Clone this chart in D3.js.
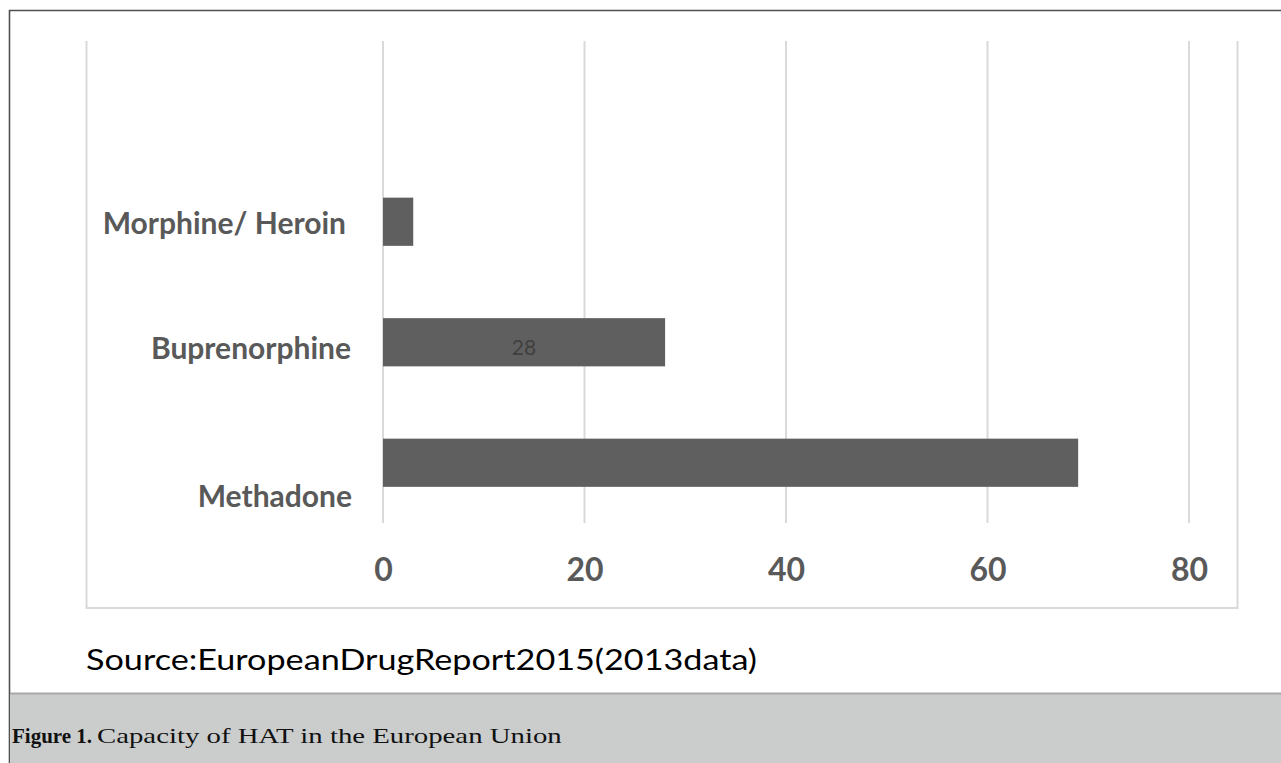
<!DOCTYPE html>
<html>
<head>
<meta charset="utf-8">
<script src="https://cdn.jsdelivr.net/npm/d3@7"></script>
<style>
  html, body { margin: 0; padding: 0; background: #fff; }
  svg { display: block; }
</style>
</head>
<body>
<script>
// Substitution treatment capacity (thousands of clients), bottom to top
const categories = ["Methadone", "Buprenorphine", "Morphine/ Heroin"];
const values = [69, 28, 3];
const tickValues = [0, 20, 40, 60, 80];
const labelledBars = ["Buprenorphine"];
const sourceText = "Source:EuropeanDrugReport2015(2013data)";
const captionBold = "Figure 1.";
const captionText = "Capacity of HAT in the European Union";

const W = 1281, H = 763;
const svg = d3.select("body").append("svg").attr("width", W).attr("height", H);

// Plot geometry
const plot = { left: 383, right: 1189, top: 41, bottom: 523 };
const frame = { left: 86.5, right: 1237.5, top: 41, bottom: 608 };

const x = d3.scaleLinear().domain([0, 80]).range([plot.left, plot.right]);
// four slots in the category axis; the top one stays empty
const slots = categories.concat([""]);
const y = d3.scaleBand().domain(slots).range([plot.bottom, plot.top]).paddingInner(0.6).paddingOuter(0.3);

// outer page border
svg.append("path")
  .attr("d", `M9.5,${H} V10.5 H${W}`)
  .attr("fill", "none").attr("stroke", "#505050").attr("stroke-width", 1.6);

// chart frame (left, bottom, right)
svg.append("path")
  .attr("d", `M${frame.left},${frame.top} V${frame.bottom} H${frame.right} V${frame.top}`)
  .attr("fill", "none").attr("stroke", "#d9d9d9").attr("stroke-width", 2);

// vertical gridlines
svg.append("g").selectAll("line").data(tickValues).join("line")
  .attr("x1", d => x(d)).attr("x2", d => x(d))
  .attr("y1", plot.top).attr("y2", plot.bottom)
  .attr("stroke", "#d9d9d9").attr("stroke-width", 2);

// bars
const data = categories.map((c, i) => ({ cat: c, val: values[i] }));
svg.append("g").selectAll("rect").data(data).join("rect")
  .attr("x", x(0))
  .attr("y", d => y(d.cat))
  .attr("width", d => x(d.val) - x(0))
  .attr("height", y.bandwidth())
  .attr("fill", "#5f5f5f");

// value label inside the bar
svg.append("g").selectAll("text").data(data.filter(d => labelledBars.includes(d.cat))).join("text")
  .attr("x", d => (x(0) + x(d.val)) / 2)
  .attr("y", d => y(d.cat) + y.bandwidth() / 2 + 7)
  .attr("dominant-baseline", "middle")
  .attr("text-anchor", "middle")
  .attr("font-family", "Lato, 'Open Sans', sans-serif")
  .attr("font-size", 21)
  .attr("fill", "#404040")
  .text(d => d.val);

// category labels (Methadone sits lower, as in the wrapped layout)
const labelShift = {
  "Methadone": { dx: 1, dy: 34 },
  "Buprenorphine": { dx: 0, dy: 7 },
  "Morphine/ Heroin": { dx: -5, dy: 2 }
};
const yAxis = d3.axisLeft(y).tickSize(0).tickPadding(0).tickFormat(d => d);
const yg = svg.append("g").attr("transform", `translate(351,0)`).call(yAxis);
yg.select(".domain").remove();
yg.selectAll(".tick").filter(d => d === "").remove();
yg.selectAll(".tick text")
  .attr("dx", d => labelShift[d].dx)
  .attr("dy", d => labelShift[d].dy + 10)
  .attr("font-family", "Lato, sans-serif")
  .attr("font-weight", "bold")
  .attr("font-size", 30)
  .attr("fill", "#595959");

// value axis labels
const xAxis = d3.axisBottom(x).tickValues(tickValues).tickSize(0).tickPadding(0);
const xg = svg.append("g").attr("transform", `translate(0,570)`).call(xAxis);
xg.select(".domain").remove();
xg.selectAll(".tick text")
  .attr("dy", "0.35em")
  .attr("font-family", "Lato, sans-serif")
  .attr("font-weight", "bold")
  .attr("font-size", 32)
  .attr("fill", "#595959");

// source note
svg.append("text")
  .attr("x", 86).attr("y", 670)
  .attr("font-family", "Lato, 'Open Sans', sans-serif")
  .attr("font-size", 29)
  .attr("fill", "#000")
  .attr("textLength", 671).attr("lengthAdjust", "spacingAndGlyphs")
  .text(sourceText);

// caption band
svg.append("rect")
  .attr("x", 10).attr("y", 693).attr("width", W - 10).attr("height", H - 693)
  .attr("fill", "#cbcdcc");
svg.append("line")
  .attr("x1", 10).attr("x2", W).attr("y1", 693.5).attr("y2", 693.5)
  .attr("stroke", "#a8a8a8").attr("stroke-width", 2);

const capFont = "'Liberation Serif', 'Times New Roman', serif";
svg.append("text")
  .attr("x", 12).attr("y", 743)
  .attr("font-family", capFont)
  .attr("font-size", 21)
  .attr("font-weight", "bold")
  .attr("fill", "#111")
  .text(captionBold);
// caption body, widened horizontally to its set width
const capBody = svg.append("text")
  .attr("font-family", capFont)
  .attr("font-size", 21)
  .attr("fill", "#111")
  .text(captionText);
const bodyWidth = capBody.node().getComputedTextLength();
capBody.attr("transform", `translate(97,743) scale(${465 / bodyWidth},1)`);
</script>
</body>
</html>
